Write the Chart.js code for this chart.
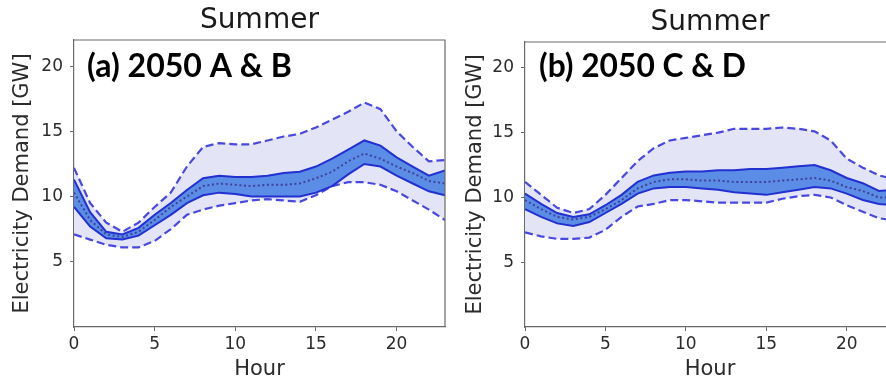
<!DOCTYPE html>
<html>
<head>
<meta charset="utf-8">
<script src="https://cdn.jsdelivr.net/npm/chart.js@4.4.0/dist/chart.umd.min.js"></script>
<style>
  html, body { margin: 0; padding: 0; background: #fff; width: 886px; height: 381px; overflow: hidden; position: relative; }
  canvas { position: absolute; top: 0; }
  #c1 { left: 0px; }
  #c2 { left: 450px; }
</style>
</head>
<body>
<canvas id="c1" width="455" height="381"></canvas>
<canvas id="c2" width="455" height="381"></canvas>
<script>
// ---------- data ----------
const hours = [0,1,2,3,4,5,6,7,8,9,10,11,12,13,14,15,16,17,18,19,20,21,22,23];
const xTicks = [0, 5, 10, 15, 20];
const yTicks = [5, 10, 15, 20];

const titleText = "Summer";
const xLabel = "Hour";
const yLabel = "Electricity Demand [GW]";
const labelA = "(a) 2050 A & B";
const labelB = "(b) 2050 C & D";

const aMax   = [12.2, 9.5, 8.0, 7.3, 8.0, 9.2, 10.3, 12.3, 13.8, 14.1, 14.0, 14.0, 14.3, 14.6, 14.8, 15.3, 15.9, 16.5, 17.2, 16.7, 15.0, 13.8, 12.7, 12.8];
const aUpper = [11.3, 8.8, 7.3, 7.1, 7.6, 8.6, 9.5, 10.5, 11.4, 11.6, 11.5, 11.5, 11.6, 11.8, 11.9, 12.3, 12.9, 13.6, 14.3, 13.9, 13.0, 12.3, 11.6, 12.0];
const aMean  = [10.3, 8.2, 7.1, 6.9, 7.3, 8.2, 9.2, 10.0, 10.8, 11.0, 10.9, 10.8, 10.9, 10.9, 11.0, 11.4, 11.9, 12.7, 13.3, 12.9, 12.3, 11.8, 11.2, 11.0];
const aLower = [9.2, 7.7, 6.8, 6.7, 7.0, 7.8, 8.6, 9.5, 10.1, 10.3, 10.2, 10.0, 10.0, 10.0, 10.0, 10.3, 10.8, 11.7, 12.5, 12.3, 11.6, 11.0, 10.4, 10.1];
const aMin   = [7.1, 6.7, 6.3, 6.1, 6.1, 6.6, 7.5, 8.6, 9.0, 9.3, 9.5, 9.7, 9.8, 9.7, 9.6, 10.1, 10.8, 11.1, 11.1, 10.9, 10.4, 9.7, 9.0, 8.2];

const bMax   = [11.2, 10.2, 9.2, 8.8, 9.1, 10.2, 11.5, 12.8, 13.8, 14.4, 14.6, 14.8, 15.0, 15.3, 15.3, 15.3, 15.4, 15.3, 15.1, 14.4, 13.0, 12.3, 11.7, 11.4];
const bUpper = [10.3, 9.5, 8.8, 8.5, 8.7, 9.4, 10.2, 11.2, 11.7, 11.9, 12.0, 12.0, 12.1, 12.1, 12.2, 12.2, 12.3, 12.4, 12.5, 12.1, 11.5, 11.1, 10.5, 10.6];
const bMean  = [9.8, 9.1, 8.5, 8.3, 8.5, 9.1, 9.8, 10.7, 11.2, 11.4, 11.4, 11.3, 11.3, 11.2, 11.2, 11.2, 11.3, 11.4, 11.5, 11.3, 10.8, 10.5, 10.0, 10.0];
const bLower = [9.1, 8.5, 8.0, 7.8, 8.1, 8.8, 9.5, 10.3, 10.7, 10.8, 10.8, 10.7, 10.6, 10.4, 10.3, 10.2, 10.4, 10.6, 10.8, 10.7, 10.3, 9.8, 9.5, 9.4];
const bMin   = [7.3, 7.0, 6.8, 6.8, 6.9, 7.5, 8.5, 9.3, 9.5, 9.8, 9.8, 9.7, 9.6, 9.6, 9.6, 9.6, 9.9, 10.1, 10.2, 10.0, 9.4, 8.9, 8.4, 8.2];

// ---------- styles ----------
const AXIS = '#6a6a6a';
const TXT = '#2b2b2b';
const OUTER_FILL = '#e4e4f7';
const INNER_FILL = '#5b8de6';
const SOLID = '#2230d0';
const DASH = '#4848e0';
const DOT = '#40409a';

function pts(arr) { return hours.map((h, i) => ({ x: h, y: arr[i] })); }

function datasets(mx, up, mn, lo, mi) {
  return [
    { data: pts(mn), borderColor: DOT, borderWidth: 2, borderDash: [2, 2.6], fill: false, pointRadius: 0 },
    { data: pts(up), borderColor: SOLID, borderWidth: 2, fill: '+1', backgroundColor: INNER_FILL, pointRadius: 0 },
    { data: pts(lo), borderColor: SOLID, borderWidth: 2, fill: false, pointRadius: 0 },
    { data: pts(mx), borderColor: DASH, borderWidth: 2.2, borderDash: [8, 4], fill: '+1', backgroundColor: OUTER_FILL, pointRadius: 0 },
    { data: pts(mi), borderColor: DASH, borderWidth: 2.2, borderDash: [8, 4], fill: false, pointRadius: 0 }
  ];
}

const framePlugin = {
  id: 'frame',
  afterDraw(chart, args, opts) {
    const { ctx, chartArea: a } = chart;
    ctx.save();
    ctx.strokeStyle = AXIS;
    ctx.lineWidth = 1.2;
    ctx.beginPath();
    ctx.moveTo(a.left, a.top);
    ctx.lineTo(a.right, a.top);
    ctx.lineTo(a.right, a.bottom);
    ctx.stroke();
    // panel annotation
    ctx.fillStyle = '#000';
    ctx.textBaseline = 'alphabetic';
    ctx.textAlign = 'left';
    ctx.font = 'bold 30px Lato';
    const w30 = ctx.measureText(opts.text).width;
    const size = 30 * opts.width / w30;
    ctx.font = 'bold ' + size.toFixed(2) + 'px Lato';
    ctx.fillText(opts.text, a.left + opts.dx, opts.baseline);
    ctx.restore();
  }
};

function makeChart(id, ds, yAxisWidth, titlePadTop, yTitlePad, annot) {
  return new Chart(document.getElementById(id), {
    type: 'line',
    data: { datasets: ds },
    plugins: [framePlugin],
    options: {
      responsive: false,
      animation: false,
      devicePixelRatio: 1,
      layout: { padding: { left: 0, right: 10, top: 0, bottom: 0 } },
      plugins: {
        legend: { display: false },
        tooltip: { enabled: false },
        filler: { drawTime: 'beforeDatasetsDraw' },
        title: {
          display: true, text: titleText, fullSize: false,
          color: '#1a1a1a',
          font: { family: 'DejaVu Sans', size: 28, weight: 'normal', lineHeight: 1 },
          padding: { top: titlePadTop, bottom: 5 }
        },
        frame: annot
      },
      elements: { line: { tension: 0 } },
      scales: {
        x: {
          type: 'linear', min: 0, max: 23,
          afterBuildTicks: s => { s.ticks = xTicks.map(v => ({ value: v })); },
          afterFit: s => { s.height = 54; },
          ticks: { color: TXT, font: { family: 'DejaVu Sans', size: 17 }, padding: 3, maxRotation: 0 },
          grid: { drawOnChartArea: false, drawTicks: true, tickLength: 4, color: AXIS, tickColor: AXIS },
          border: { display: true, color: AXIS, width: 1.2 },
          title: { display: true, text: xLabel, color: TXT, font: { family: 'DejaVu Sans', size: 21, lineHeight: 1 }, padding: { top: 0, bottom: 1 } }
        },
        y: {
          type: 'linear', min: 0, max: 22,
          afterBuildTicks: s => { s.ticks = yTicks.map(v => ({ value: v })); },
          afterFit: s => { s.width = yAxisWidth; },
          ticks: { color: TXT, font: { family: 'DejaVu Sans', size: 17 }, padding: 7 },
          grid: { drawOnChartArea: false, drawTicks: true, tickLength: 4, color: AXIS, tickColor: AXIS },
          border: { display: true, color: AXIS, width: 1.2 },
          title: { display: true, text: yLabel, color: TXT, font: { family: 'DejaVu Sans', size: 21, lineHeight: 1 }, padding: { top: yTitlePad, bottom: 0 } }
        }
      }
    }
  });
}

makeChart('c1', datasets(aMax, aUpper, aMean, aLower, aMin), 74, 7, 12, { text: labelA, width: 205, dx: 13, baseline: 77 });
makeChart('c2', datasets(bMax, bUpper, bMean, bLower, bMin), 75, 9, 15, { text: labelB, width: 207, dx: 14, baseline: 77 });
</script>
</body>
</html>
